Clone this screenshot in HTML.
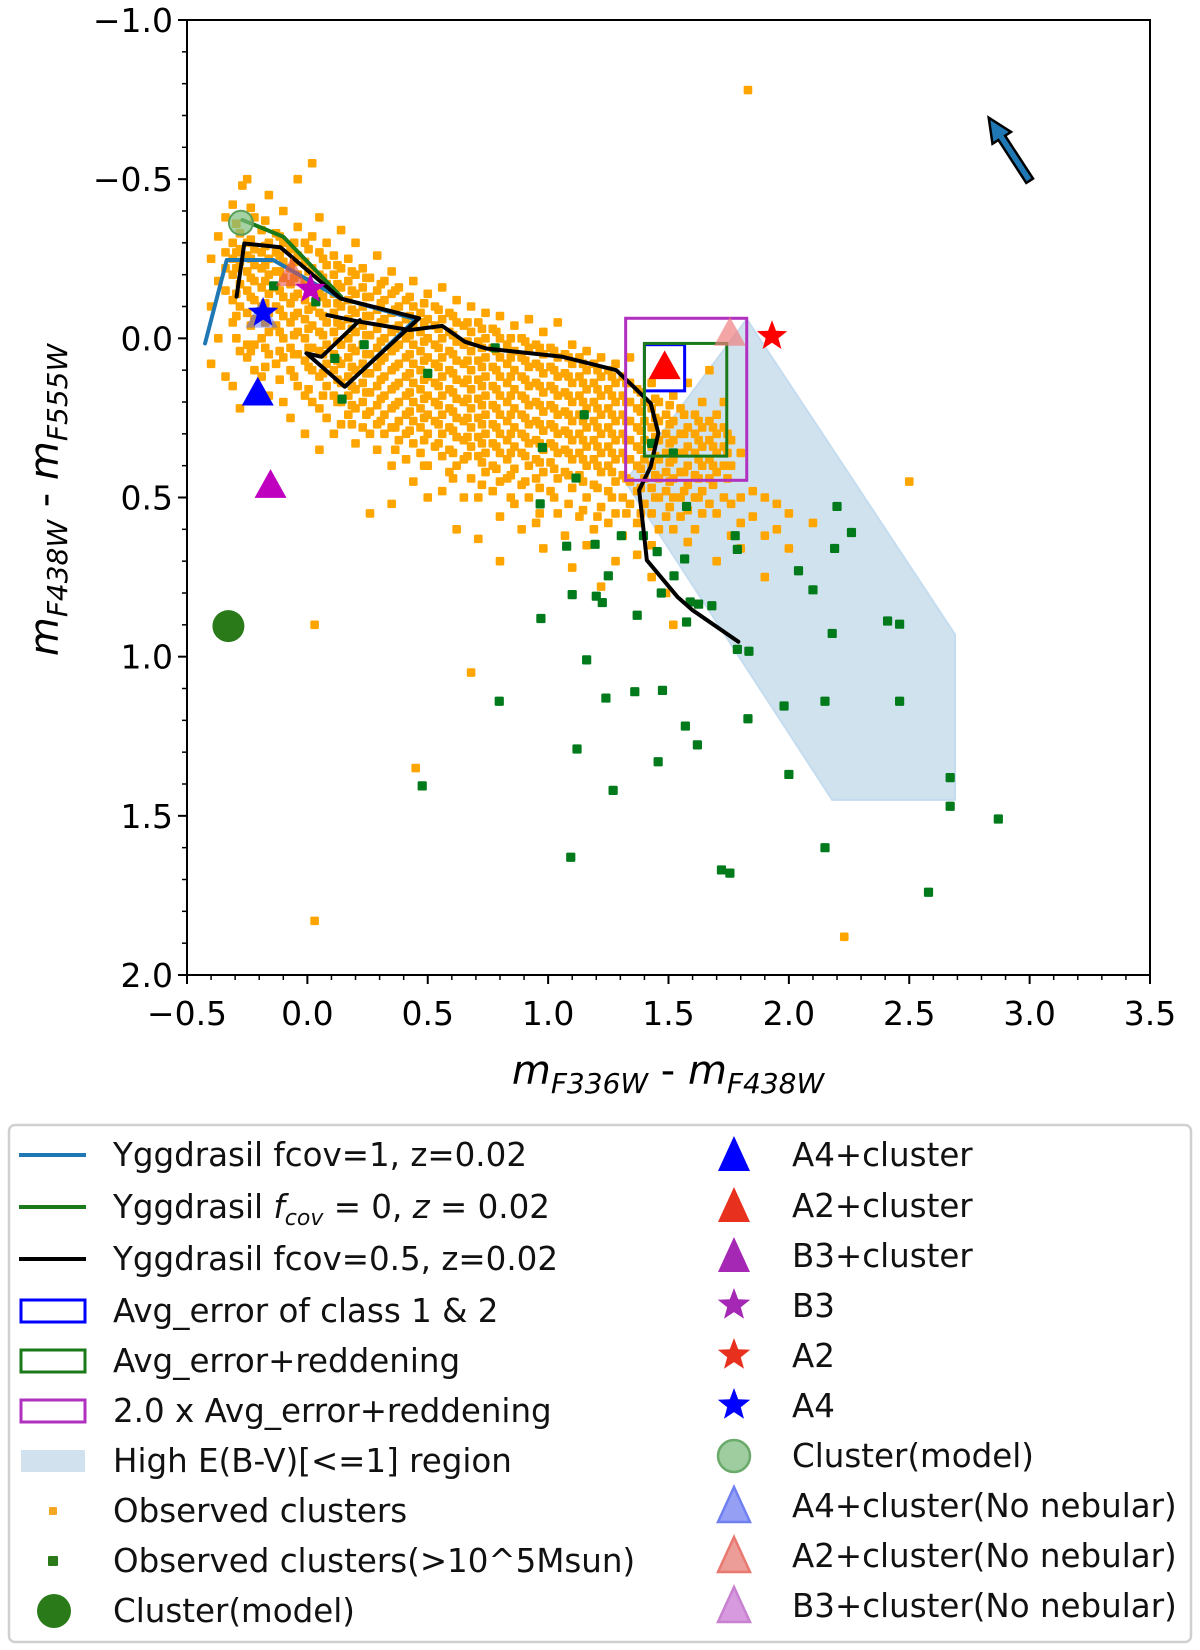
<!DOCTYPE html>
<html><head><meta charset="utf-8"><style>
html,body{margin:0;padding:0;background:#fff;}
svg{display:block;font-family:"DejaVu Sans","Liberation Sans",sans-serif;}
</style></head><body>
<svg id="chart" width="1200" height="1650" viewBox="0 0 1200 1650" xmlns="http://www.w3.org/2000/svg">
<g id="plot"></g>
<g id="axes"></g>
<text x="668" y="1084" font-size="40" text-anchor="middle" fill="#000"><tspan font-style="italic">m</tspan><tspan font-style="italic" font-size="28" dy="9">F336W</tspan><tspan dy="-9"> - </tspan><tspan font-style="italic">m</tspan><tspan font-style="italic" font-size="28" dy="9">F438W</tspan></text>
<text transform="translate(58,500) rotate(-90)" font-size="40" text-anchor="middle" fill="#000"><tspan font-style="italic">m</tspan><tspan font-style="italic" font-size="28" dy="9">F438W</tspan><tspan dy="-9"> - </tspan><tspan font-style="italic">m</tspan><tspan font-style="italic" font-size="28" dy="9">F555W</tspan></text>
<g id="legend"></g>
</svg>
<script>
const NS="http://www.w3.org/2000/svg";
const xTicks=[-0.5,0.0,0.5,1.0,1.5,2.0,2.5,3.0,3.5];
const xTickLabels=["\u22120.5","0.0","0.5","1.0","1.5","2.0","2.5","3.0","3.5"];
const yTicks=[-1.0,-0.5,0.0,0.5,1.0,1.5,2.0];
const yTickLabels=["\u22121.0","\u22120.5","0.0","0.5","1.0","1.5","2.0"];
const observedCols=[
[-0.40,[-0.25,-0.1,0.08]],[-0.37,[-0.32,-0.18,0.0]],[-0.34,[-0.38,-0.27,-0.22,-0.15,0.12]],
[-0.31,[-0.42,-0.3,-0.25,-0.2,-0.12,-0.05,0.15]],[-0.28,[-0.33,-0.28,-0.24,-0.17,-0.1,0.04,0.22]],
[-0.25,[-0.5,-0.3,-0.26,-0.21,-0.15,-0.08,0.02,0.06]],[-0.22,[-0.38,-0.28,-0.23,-0.18,-0.12,-0.06,0.02,0.1]],
[-0.19,[-0.34,-0.27,-0.22,-0.16,-0.1,0.0,0.12]],[-0.16,[-0.45,-0.3,-0.25,-0.2,-0.14,-0.08,-0.02,0.05,0.18]],
[-0.13,[-0.33,-0.27,-0.21,-0.16,-0.1,-0.04,0.08]],[-0.10,[-0.4,-0.3,-0.24,-0.19,-0.13,-0.07,0.0,0.06,0.2]],
[-0.07,[-0.28,-0.22,-0.17,-0.11,-0.05,0.03,0.1,0.25]],[-0.04,[-0.5,-0.35,-0.26,-0.2,-0.14,-0.08,-0.02,0.05,0.15]],
[-0.01,[-0.3,-0.24,-0.18,-0.12,-0.06,0.0,0.07,0.18,0.3]],[0.02,[-0.55,-0.32,-0.22,-0.16,-0.1,-0.04,0.03,0.1,0.2]],
[0.05,[-0.38,-0.27,-0.2,-0.14,-0.08,-0.02,0.04,0.12,0.22,0.35]],[0.08,[-0.3,-0.23,-0.17,-0.11,-0.05,0.02,0.08,0.15,0.25]],
[0.11,[-0.26,-0.2,-0.14,-0.08,-0.02,0.05,0.1,0.18,0.3]],[0.14,[-0.34,-0.22,-0.16,-0.1,-0.04,0.02,0.08,0.14,0.2,0.27]],
[0.17,[-0.25,-0.18,-0.12,-0.06,0.0,0.06,0.12,0.18,0.24]],[0.20,[-0.3,-0.2,-0.14,-0.08,-0.02,0.04,0.1,0.16,0.22,0.33]],
[0.23,[-0.22,-0.16,-0.1,-0.04,0.02,0.08,0.14,0.2,0.28]],[0.26,[-0.19,-0.13,-0.07,-0.01,0.05,0.11,0.17,0.23,0.3,0.55]],
[0.29,[-0.26,-0.15,-0.09,-0.03,0.03,0.09,0.15,0.21,0.27,0.35]],[0.32,[-0.18,-0.12,-0.06,0.0,0.06,0.12,0.18,0.24,0.3]],
[0.35,[-0.21,-0.14,-0.08,-0.02,0.04,0.1,0.16,0.22,0.28,0.4,0.52]],[0.38,[-0.16,-0.1,-0.04,0.02,0.08,0.14,0.2,0.26,0.32]],
[0.41,[-0.12,-0.06,0.0,0.06,0.12,0.18,0.24,0.3,0.38]],[0.44,[-0.18,-0.1,-0.04,0.02,0.08,0.14,0.2,0.26,0.33,0.45]],
[0.47,[-0.08,-0.02,0.04,0.1,0.16,0.22,0.28,0.36]],[0.50,[-0.14,-0.06,0.0,0.06,0.12,0.18,0.24,0.3,0.4,0.5]],
[0.53,[-0.1,-0.04,0.02,0.08,0.14,0.2,0.26,0.34]],[0.56,[-0.16,-0.06,0.0,0.06,0.12,0.18,0.24,0.3,0.37,0.48]],
[0.59,[-0.08,-0.02,0.04,0.1,0.16,0.22,0.28,0.35,0.42]],[0.62,[-0.12,-0.05,0.01,0.07,0.13,0.19,0.25,0.31,0.4,0.6]],
[0.65,[-0.04,0.02,0.08,0.14,0.2,0.26,0.32,0.38,0.5]],[0.68,[-0.1,-0.02,0.04,0.1,0.16,0.22,0.28,0.34,0.44]],
[0.71,[-0.05,0.01,0.07,0.13,0.19,0.25,0.31,0.37,0.5,0.63]],[0.74,[-0.08,0.0,0.06,0.12,0.18,0.24,0.3,0.36,0.42]],
[0.77,[-0.03,0.03,0.09,0.15,0.21,0.27,0.33,0.4,0.48]],[0.80,[-0.07,0.0,0.06,0.12,0.18,0.24,0.3,0.36,0.45,0.56,0.7]],
[0.83,[0.02,0.08,0.14,0.2,0.26,0.32,0.38,0.44]],[0.86,[-0.04,0.04,0.1,0.16,0.22,0.28,0.34,0.41,0.52]],
[0.89,[0.0,0.06,0.12,0.18,0.24,0.3,0.36,0.46,0.6]],[0.92,[-0.06,0.03,0.09,0.15,0.21,0.27,0.33,0.4,0.5]],
[0.95,[0.02,0.08,0.14,0.2,0.26,0.32,0.38,0.44,0.58]],[0.98,[-0.02,0.05,0.11,0.17,0.23,0.29,0.35,0.42,0.66]],
[1.01,[0.03,0.09,0.15,0.21,0.27,0.33,0.39,0.48]],[1.04,[-0.05,0.06,0.12,0.18,0.24,0.3,0.36,0.44,0.55]],
[1.07,[0.05,0.11,0.17,0.23,0.29,0.35,0.42,0.62]],[1.10,[0.02,0.08,0.14,0.2,0.26,0.32,0.38,0.47,0.72]],
[1.13,[0.06,0.12,0.18,0.24,0.3,0.36,0.43,0.56]],[1.16,[0.04,0.1,0.16,0.22,0.28,0.34,0.4,0.5,0.65]],
[1.19,[0.08,0.14,0.2,0.26,0.32,0.38,0.46,0.6]],[1.22,[0.06,0.12,0.18,0.24,0.3,0.36,0.42,0.53,0.78]],
[1.25,[0.1,0.16,0.22,0.28,0.34,0.4,0.48,0.58]],[1.28,[0.08,0.14,0.2,0.26,0.32,0.38,0.45,0.55,0.7]],
[1.31,[0.12,0.18,0.24,0.3,0.36,0.43,0.5,0.62]],[1.34,[0.06,0.14,0.2,0.26,0.32,0.38,0.45,0.52]],
[1.37,[0.16,0.22,0.28,0.34,0.4,0.48,0.58,0.68]],[1.40,[0.2,0.26,0.32,0.38,0.44,0.52]],
[1.43,[0.14,0.22,0.28,0.34,0.4,0.47,0.55,0.65,0.75]],[1.46,[0.2,0.26,0.32,0.38,0.44,0.5,0.6]],
[1.49,[0.24,0.3,0.36,0.42,0.48,0.56,0.8]],[1.52,[0.18,0.26,0.32,0.38,0.44,0.5,0.6,0.9]],
[1.55,[0.22,0.3,0.36,0.42,0.5,0.56]],[1.58,[0.14,0.28,0.34,0.4,0.46,0.54,0.64]],
[1.61,[0.24,0.3,0.36,0.43,0.5,0.6]],[1.64,[0.2,0.28,0.34,0.4,0.48,0.55]],
[1.67,[0.1,0.26,0.32,0.38,0.44,0.52]],[1.70,[0.24,0.3,0.36,0.42,0.55,0.7]],
[1.73,[0.2,0.28,0.34,0.4,0.5]],[1.76,[0.32,0.4,0.52,0.62]],[1.80,[0.36,0.5,0.58,0.66]],
[1.85,[0.48,0.56]],[1.90,[0.5,0.62,0.75]],[1.95,[0.52,0.6]],[2.0,[0.55,0.66]],[2.1,[0.58]],
[1.83,[-0.78]],[2.5,[0.45]],[2.23,[1.88]],[0.03,[1.83,0.9]],[0.68,[1.05]],[-0.27,[-0.48]],[0.45,[1.35]]
];
const observedColsB=[
[-0.295,[-0.36,-0.27,-0.22,-0.14,-0.07,0.0]],[-0.235,[-0.41,-0.31,-0.25,-0.19,-0.13,-0.04,0.04]],
[-0.175,[-0.37,-0.29,-0.23,-0.18,-0.11,-0.05,0.03,0.09]],[-0.115,[-0.32,-0.26,-0.21,-0.15,-0.09,-0.02,0.04,0.13]],
[-0.055,[-0.3,-0.24,-0.19,-0.13,-0.07,-0.01,0.05,0.12]],[0.005,[-0.28,-0.21,-0.15,-0.09,-0.03,0.03,0.09,0.16]],
[0.065,[-0.25,-0.19,-0.13,-0.07,-0.01,0.05,0.11,0.18]],[0.125,[-0.23,-0.17,-0.11,-0.05,0.01,0.07,0.13,0.2]],
[0.185,[-0.21,-0.15,-0.09,-0.03,0.03,0.09,0.15,0.21,0.27]],[0.245,[-0.19,-0.13,-0.07,-0.01,0.05,0.11,0.17,0.24]],
[0.305,[-0.17,-0.11,-0.05,0.01,0.07,0.13,0.19,0.26]],[0.365,[-0.15,-0.09,-0.03,0.03,0.09,0.15,0.21,0.28,0.35]],
[0.425,[-0.13,-0.07,-0.01,0.05,0.11,0.17,0.23,0.29]],[0.485,[-0.11,-0.05,0.01,0.07,0.13,0.19,0.25,0.32,0.4]],
[0.545,[-0.09,-0.03,0.03,0.09,0.15,0.21,0.27,0.33]],[0.605,[-0.07,-0.01,0.05,0.11,0.17,0.23,0.29,0.36,0.44]],
[0.665,[-0.05,0.01,0.07,0.13,0.19,0.25,0.31,0.37]],[0.725,[-0.03,0.03,0.09,0.15,0.21,0.27,0.33,0.39,0.46]],
[0.785,[-0.02,0.04,0.1,0.16,0.22,0.28,0.34,0.41]],[0.845,[0.0,0.06,0.12,0.18,0.24,0.3,0.36,0.43,0.5]],
[0.905,[0.01,0.07,0.13,0.19,0.25,0.31,0.37,0.45]],[0.965,[0.03,0.09,0.15,0.21,0.27,0.33,0.39,0.47,0.55]],
[1.025,[0.04,0.1,0.16,0.22,0.28,0.34,0.41,0.5]],[1.085,[0.06,0.12,0.18,0.24,0.3,0.36,0.43,0.52]],
[1.145,[0.08,0.14,0.2,0.26,0.32,0.38,0.45,0.54]],[1.205,[0.1,0.16,0.22,0.28,0.34,0.4,0.47,0.56]],
[1.265,[0.12,0.18,0.24,0.3,0.36,0.42,0.5]],[1.325,[0.14,0.2,0.26,0.32,0.38,0.44,0.55]],
[1.385,[0.17,0.23,0.29,0.35,0.41,0.47,0.55]],[1.445,[0.19,0.25,0.31,0.37,0.43,0.5]],
[1.505,[0.21,0.27,0.33,0.39,0.45,0.53]],[1.565,[0.24,0.3,0.36,0.42,0.48]],
[1.625,[0.26,0.32,0.38,0.44,0.5]],[1.685,[0.28,0.34,0.4,0.46]],[1.745,[0.3,0.36,0.44]]
];
const massiveX=[-0.14,0.035,0.114,0.236,0.144,0.5,0.78,1.15,0.976,1.116,0.967,1.077,1.195,1.304,1.396,1.453,1.567,1.575,1.777,1.786,1.68,1.523,1.2,1.1,1.25,1.59,1.786,1.834,1.575,2.04,2.1,2.2,2.19,2.26,2.18,2.41,2.46,2.46,2.15,1.98,1.83,1.475,1.36,1.24,1.12,1.27,1.457,1.57,1.62,2.0,2.67,2.67,2.87,2.58,2.15,1.72,1.755,1.094,0.477,0.797,0.97,1.16,1.37,1.225,1.47,1.625,1.52,1.43];
const massiveY=[-0.165,-0.115,0.063,0.02,0.191,0.11,0.03,0.24,0.343,0.439,0.52,0.653,0.647,0.62,0.62,0.67,0.693,0.528,0.62,0.663,0.84,0.746,0.81,0.805,0.746,0.828,0.977,0.983,0.891,0.73,0.79,0.528,0.66,0.61,0.927,0.888,0.898,1.14,1.14,1.155,1.195,1.106,1.11,1.13,1.29,1.42,1.33,1.218,1.277,1.37,1.38,1.47,1.51,1.74,1.6,1.67,1.68,1.63,1.406,1.14,0.88,1.01,0.87,0.83,0.80,0.835,0.36,0.33];
const fcov1X=[-0.425,-0.335,-0.142,0.136,0.45,0.16];
const fcov1Y=[0.016,-0.246,-0.246,-0.126,-0.06,0.15];
const fcov0X=[-0.27,-0.1,0.14];
const fcov0Y=[-0.372,-0.319,-0.131];
const fcovHalfAX=[-0.294,-0.262,-0.112,0.138,0.464,0.155,-0.004,0.059,0.218];
const fcovHalfAY=[-0.131,-0.298,-0.286,-0.125,-0.063,0.152,0.047,0.058,-0.057];
const fcovHalfBX=[0.083,0.218,0.425,0.56,0.655,0.743,1.06,1.283,1.426,1.458,1.426,1.378,1.41,1.537,1.60,1.79];
const fcovHalfBY=[-0.073,-0.052,-0.026,-0.039,0.011,0.032,0.058,0.10,0.204,0.298,0.403,0.477,0.697,0.812,0.854,0.953];
const regionX=[1.825,2.69,2.69,2.18,1.32];
const regionY=[-0.06,0.93,1.45,1.45,0.45];
const boxBlue=[1.40,0.02,1.567,0.165];
const boxGreen=[1.40,0.016,1.742,0.37];
const boxMagenta=[1.322,-0.063,1.825,0.446];
const arrowXY=[3.0,-0.495,2.83,-0.693];

const L=187,R=1150,T=20,B=975,X0=-0.5,X1=3.5,Y0=-1.0,Y1=2.0;
const sx=v=>L+(v-X0)/(X1-X0)*(R-L);
const sy=v=>T+(v-Y0)/(Y1-Y0)*(B-T);
const plot=document.getElementById('plot'),axes=document.getElementById('axes'),legend=document.getElementById('legend');
function mk(tag,attrs,parent){const e=document.createElementNS(NS,tag);for(const k in attrs)e.setAttribute(k,attrs[k]);parent.appendChild(e);return e;}
function tri(cx,cy,s){const h=s*0.9;return `${cx},${cy-h*0.6} ${cx+s/2},${cy+h*0.4} ${cx-s/2},${cy+h*0.4}`;}
function star(cx,cy,r){let p=[];for(let i=0;i<10;i++){const a=-Math.PI/2+i*Math.PI/5;const rr=i%2?r*0.42:r;p.push((cx+rr*Math.cos(a)).toFixed(1)+','+(cy+rr*Math.sin(a)).toFixed(1));}return p.join(' ');}

let reg=mk('polygon',{points:regionX.map((x,i)=>sx(x)+','+sy(regionY[i])).join(' '),fill:'#c6dbec',stroke:'#b6d4ec','stroke-width':2,opacity:0.8},plot);


[observedCols,observedColsB].forEach(cols=>cols.forEach(c=>{c[1].forEach(y=>{const r=mk('rect',{x:sx(c[0])-4.3,y:sy(y)-4.3,width:8.6,height:8.6,rx:1.2,fill:'#ffa500'},plot);

});}));
massiveX.forEach((x,i)=>{const r=mk('rect',{x:sx(x)-4.6,y:sy(massiveY[i])-4.6,width:9.2,height:9.2,rx:1.3,fill:'#007a1a'},plot);

});
function line(xs,ys,col,name){const p=mk('polyline',{points:xs.map((x,i)=>sx(x)+','+sy(ys[i])).join(' '),fill:'none',stroke:col,'stroke-width':4,'stroke-linejoin':'round','stroke-linecap':'round'},plot);

}
line(fcov1X,fcov1Y,'#1f77b4','fcov1-line');
line(fcov0X,fcov0Y,'#1a7a1a','fcov0-line');
line(fcovHalfAX,fcovHalfAY,'#000','fcov05-line-a');
line(fcovHalfBX,fcovHalfBY,'#000','fcov05-line-b');
function box(b,col,name){const r=mk('rect',{x:sx(b[0]),y:sy(b[1]),width:sx(b[2])-sx(b[0]),height:sy(b[3])-sy(b[1]),fill:'none',stroke:col,'stroke-width':3},plot);

}
box(boxBlue,'#0000ff','avg-error-box');
box(boxGreen,'#1a7a1a','reddening-box');
box(boxMagenta,'#b030c0','double-reddening-box');
const markers=[
['circle',-0.328,0.904,'#2a7a1a',1,'cluster-model-marker'],
['circle',-0.276,-0.363,'#7fbf7f',0.7,'cluster-model-light'],
['tri',-0.206,0.175,'#0000ff',1,'a4-cluster-triangle'],
['tri',-0.153,0.465,'#bf00bf',1,'b3-cluster-triangle'],
['tri',-0.19,-0.07,'#4060ff',0.45,'a4-nonebular-triangle'],
['star',-0.184,-0.08,'#0000ff',1,'a4-star'],
['tri',-0.066,-0.2,'#e8504a',0.6,'a2-nonebular-triangle-left'],
['star',0.013,-0.155,'#bf00bf',1,'b3-star'],
['tri',1.484,0.092,'#ff0000',1,'a2-cluster-triangle'],
['tri',1.755,-0.013,'#f08080',0.7,'a2-nonebular-triangle'],
['star',1.93,-0.007,'#ff0000',1,'a2-star']];
markers.forEach(m=>{let e;const cx=sx(m[1]),cy=sy(m[2]);
if(m[0]==='circle')e=mk('circle',{cx,cy,r:m[5]==='cluster-model-marker'?16:12,fill:m[3],'fill-opacity':m[4],stroke:m[4]<1?'#5aa05a':'none','stroke-width':2},plot);
else if(m[0]==='tri')e=mk('polygon',{points:tri(cx,cy,32),fill:m[3],'fill-opacity':m[4]},plot);
else e=mk('polygon',{points:star(cx,cy,16),fill:m[3],'fill-opacity':m[4]},plot);

});
(function(){const x1=sx(arrowXY[0]),y1=sy(arrowXY[1]),x2=sx(arrowXY[2]),y2=sy(arrowXY[3]);
const dx=x2-x1,dy=y2-y1,len=Math.hypot(dx,dy),ux=dx/len,uy=dy/len,px=-uy,py=ux,w=4,hw=11,hl=24;
const bx=x2-ux*hl,by=y2-uy*hl;
const pts=[[x1+px*w,y1+py*w],[bx+px*w,by+py*w],[bx+px*hw,by+py*hw],[x2,y2],[bx-px*hw,by-py*hw],[bx-px*w,by-py*w],[x1-px*w,y1-py*w]];
const a=mk('polygon',{points:pts.map(p=>p[0].toFixed(1)+','+p[1].toFixed(1)).join(' '),fill:'#1f77b4',stroke:'#000','stroke-width':2.5,'stroke-linejoin':'miter'},plot);

})();
const fr=mk('rect',{x:L,y:T,width:R-L,height:B-T,fill:'none',stroke:'#000','stroke-width':2},axes);


for(let i=0;i<=40;i++){const v=X0+i*0.1,x=sx(v),maj=i%5===0;
const t=mk('line',{x1:x,y1:B,x2:x,y2:B+(maj?9:5),stroke:'#000','stroke-width':maj?2:1.5},axes);

}
for(let i=0;i<=30;i++){const v=Y0+i*0.1,y=sy(v),maj=i%5===0;
const t=mk('line',{x1:L,y1:y,x2:L-(maj?9:5),y2:y,stroke:'#000','stroke-width':maj?2:1.5},axes);

}
xTicks.forEach((v,i)=>{const t=mk('text',{x:sx(v),y:B+50,'font-size':33,'text-anchor':'middle',fill:'#000'},axes);t.textContent=xTickLabels[i];

});
yTicks.forEach((v,i)=>{const t=mk('text',{x:L-14,y:sy(v)+12,'font-size':33,'text-anchor':'end',fill:'#000'},axes);t.textContent=yTickLabels[i];

});
const lb=mk('rect',{x:9,y:1125,width:1182,height:517,rx:6,fill:'#fff',stroke:'#d0d0d0','stroke-width':2.5},legend);


const leftRows=[1155,1207,1259,1311,1361,1411,1461,1511,1561,1611];
const leftLabels=['Yggdrasil fcov=1, z=0.02','','Yggdrasil fcov=0.5, z=0.02','Avg_error of class 1 & 2','Avg_error+reddening','2.0 x Avg_error+reddening','High E(B-V)[<=1] region','Observed clusters','Observed clusters(>10^5Msun)','Cluster(model)'];
leftRows.forEach((y,i)=>{const g=mk('g',{},legend);


if(i<3)mk('line',{x1:19,y1:y,x2:86,y2:y,stroke:['#1f77b4','#1a7a1a','#000'][i],'stroke-width':4},g);
else if(i<6)mk('rect',{x:21,y:y-11,width:64,height:22,fill:'none',stroke:['#0000ff','#1a7a1a','#b030c0'][i-3],'stroke-width':3},g);
else if(i===6)mk('rect',{x:21,y:y-11,width:64,height:22,fill:'#d2e1ee'},g);
else if(i===7)mk('rect',{x:49,y:y-4,width:8,height:8,rx:1,fill:'#f5a623'},g);
else if(i===8)mk('rect',{x:48,y:y-5,width:10,height:10,rx:1,fill:'#2a7a1a'},g);
else mk('circle',{cx:54,cy:y,r:17,fill:'#2a7a1a'},g);
const t=mk('text',{x:113,y:y+11,'font-size':32.5,fill:'#111'},g);
if(i===1){t.innerHTML='Yggdrasil <tspan font-style="italic">f</tspan><tspan font-style="italic" font-size="22" dy="7">cov</tspan><tspan dy="-7"> = 0, </tspan><tspan font-style="italic">z</tspan> = 0.02';}
else t.textContent=leftLabels[i];});
const rightRows=[1155,1206,1256,1306,1356,1406,1456,1506,1556,1606];
const rightLabels=['A4+cluster','A2+cluster','B3+cluster','B3','A2','A4','Cluster(model)','A4+cluster(No nebular)','A2+cluster(No nebular)','B3+cluster(No nebular)'];
const rightCols=['#0000ff','#e8301e','#a428b4','#a428b4','#e8301e','#0000ff','#9fcd9f','#95a0f5','#ec9d97','#d89ade'];
rightRows.forEach((y,i)=>{const g=mk('g',{},legend);


const cx=734;
if(i<3)mk('polygon',{points:`${cx},${y-19} ${cx+16},${y+16} ${cx-16},${y+16}`,fill:rightCols[i]},g);
else if(i<6)mk('polygon',{points:star(cx,y-1,17),fill:rightCols[i]},g);
else if(i===6)mk('circle',{cx,cy:y,r:16,fill:rightCols[i],stroke:'#6aaa6a','stroke-width':2.5},g);
else mk('polygon',{points:`${cx},${y-19} ${cx+16},${y+16} ${cx-16},${y+16}`,fill:rightCols[i],stroke:['#7080f0','#e87870','#c880d0'][i-7],'stroke-width':2.5},g);
const t=mk('text',{x:792,y:y+11,'font-size':32.5,fill:'#111'},g);t.textContent=rightLabels[i];});
</script>
</body></html>
